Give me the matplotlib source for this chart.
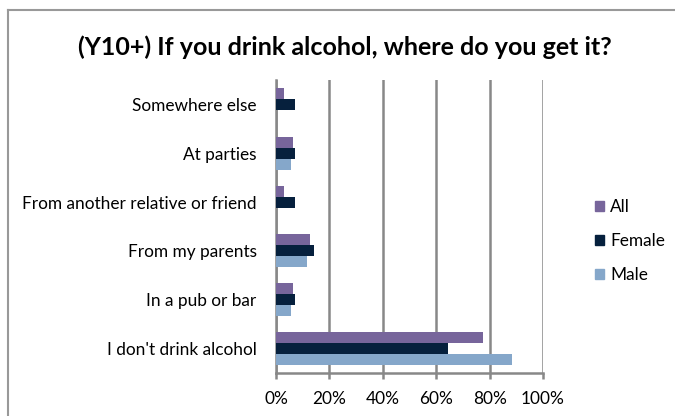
import numpy as np
import matplotlib.pyplot as plt
from matplotlib.lines import Line2D
from matplotlib.patches import Patch

plt.rcParams['font.family'] = ['Lato', 'DejaVu Sans']

categories = ['I don\'t drink alcohol', 'In a pub or bar', 'From my parents',
              'From another relative or friend', 'At parties', 'Somewhere else']
all_pct = [77.6, 6.2, 12.7, 3.0, 6.2, 3.0]
female_pct = [64.4, 7.0, 14.1, 7.0, 7.0, 7.0]
male_pct = [88.5, 5.75, 11.6, 0.0, 5.75, 0.0]
xticks = [0, 20, 40, 60, 80, 100]

c_all, c_female, c_male = '#77659B', '#06203D', '#85A7CA'
grid_c = '#888888'

fig = plt.figure(figsize=(6.75, 4.16), dpi=100)
ax = fig.add_axes([276 / 675, 1 - 373 / 416, 267 / 675, 293 / 416])

y = np.arange(len(categories))
h = 0.225
ax.barh(y + h, all_pct, height=h, color=c_all, zorder=3)
ax.barh(y, female_pct, height=h, color=c_female, zorder=3)
ax.barh(y - h, male_pct, height=h, color=c_male, zorder=3)

ax.set_xlim(0, 100)
ax.set_ylim(-0.5, len(categories) - 0.5)
ax.set_xticks(xticks)
ax.set_xticklabels([f'{v}%' for v in xticks])
ax.set_yticks(y)
ax.set_yticklabels(categories)
ax.xaxis.grid(True, color=grid_c, lw=1.8, zorder=0)
for s in ['top', 'right']:
    ax.spines[s].set_visible(False)
for s in ['left', 'bottom']:
    ax.spines[s].set_color(grid_c)
    ax.spines[s].set_linewidth(1.8)
ax.tick_params(axis='y', length=0, pad=14, labelsize=12.4)
ax.tick_params(axis='x', length=4, width=1.8, color=grid_c, direction='out',
               pad=9, labelsize=12.4)

fig.text(345 / 675, 1 - 47 / 416, '(Y10+) If you drink alcohol, where do you get it?',
         ha='center', va='center', fontsize=18, fontweight='bold')

# legend entries drawn as squares with labels
handles = [Patch(color=c_all), Patch(color=c_female), Patch(color=c_male)]
fig.legend(handles, ['All', 'Female', 'Male'], loc='center left',
           bbox_to_anchor=(579 / 675, 1 - 241 / 416), frameon=False,
           fontsize=12.4, handlelength=0.55, handleheight=0.55, handletextpad=0.35,
           labelspacing=1.05)

# outer chart border
fig.add_artist(Line2D([8 / 675, 8 / 675], [0, 1 - 10 / 416], color='#999999', lw=1.5))
fig.add_artist(Line2D([8 / 675, 1], [1 - 10 / 416, 1 - 10 / 416], color='#999999', lw=1.5))

fig.savefig('out.png', dpi=100)
